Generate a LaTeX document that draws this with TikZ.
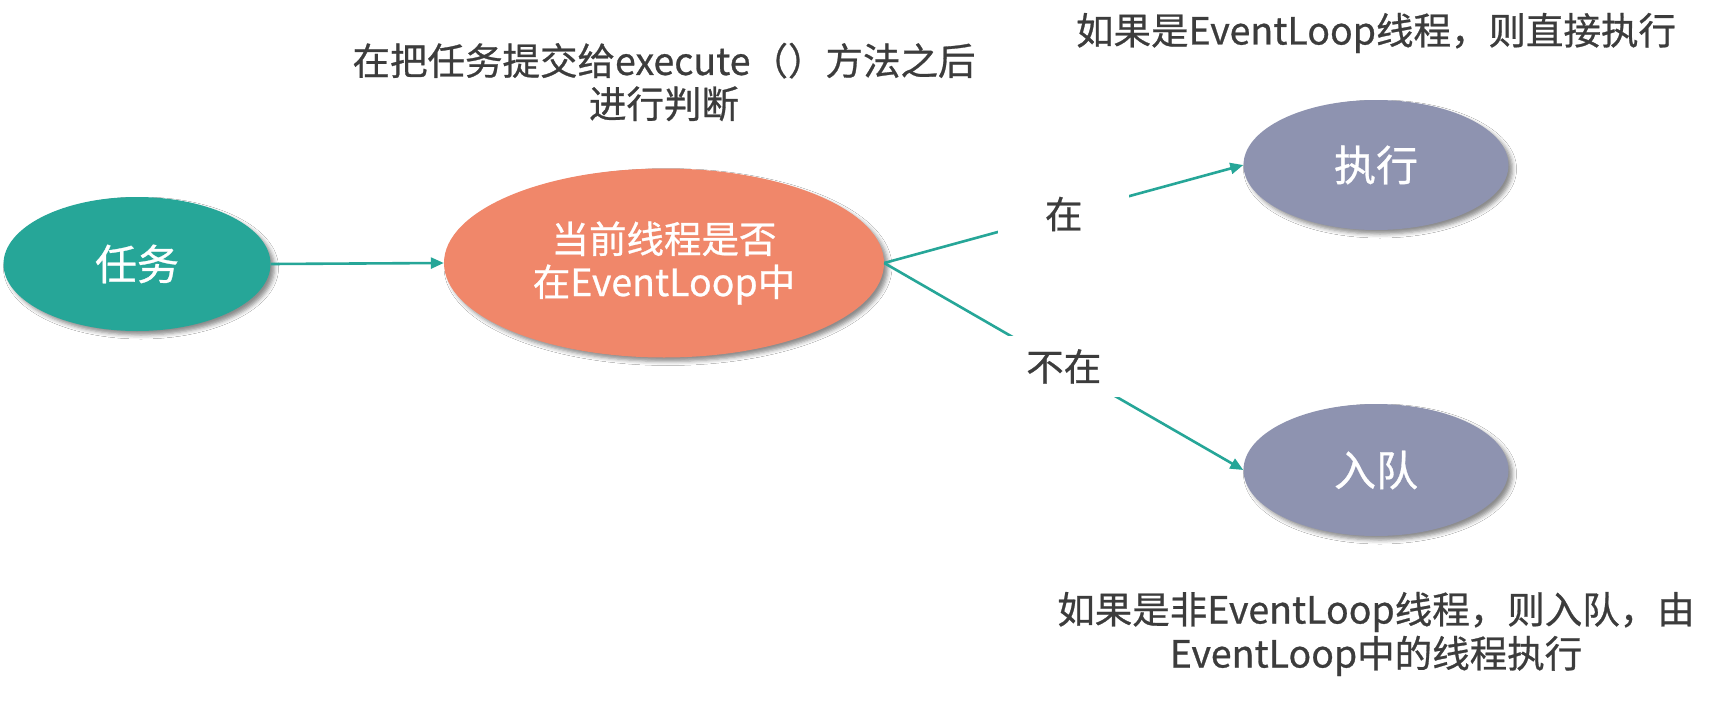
\documentclass[tikz,border=0pt]{standalone}
\usepackage{fontspec}
\setmainfont{Noto Sans CJK SC}[FakeBold=0.7]
\usetikzlibrary{shapes.geometric,shadows.blur,arrows.meta}
\definecolor{teal1}{RGB}{38,166,152}
\definecolor{salmon1}{RGB}{240,135,106}
\definecolor{slate1}{RGB}{142,147,176}
\definecolor{txt}{RGB}{60,60,60}
\begin{document}
\begin{tikzpicture}[x=1pt,y=-1pt,
  blob/.style={ellipse, inner sep=0pt, text=white, align=center,
    blur shadow={shadow xshift=4pt, shadow yshift=-4pt, shadow blur radius=4pt, shadow opacity=45}},
  bigtxt/.style={font=\fontsize{42}{48}\selectfont},
  midtxt/.style={font=\fontsize{37.5}{43}\selectfont},
  note/.style={text=txt, align=center, font=\fontsize{37.5}{43}\selectfont},
  conn/.style={draw=teal1, line width=2.6pt, -{Triangle[length=13pt,width=11pt]}},
  lbl/.style={fill=white, text=txt, minimum width=131pt, minimum height=61pt, inner sep=0pt, font=\fontsize{37.5}{43}\selectfont}
]
\fill[white] (0,0) rectangle (1732,704);
\useasboundingbox (0,0) rectangle (1732,704);

\node[blob, fill=teal1, minimum width=267pt, minimum height=134pt, bigtxt] (task) at (137,264) {任务};
\node[blob, fill=salmon1, minimum width=440pt, minimum height=189pt, midtxt] (judge) at (664,263) {当前线程是否\\在EventLoop中};
\node[blob, fill=slate1, minimum width=265pt, minimum height=130pt, bigtxt] (exec) at (1376,165) {执行};
\node[blob, fill=slate1, minimum width=265pt, minimum height=132pt, bigtxt] (queue) at (1376,470) {入队};

\draw[conn] (task.east) -- (judge.west);
\draw[conn] (judge.east) -- node[lbl] (l1) {在} (exec.west);
\draw[conn] (judge.east) -- node[lbl] (l2) {不在} (queue.west);

\node[note] (n1) at (664,82) {在把任务提交给execute（）方法之后\\进行判断};
\node[note] (n2) at (1376,33) {如果是EventLoop线程，则直接执行};
\node[note, font=\fontsize{37.5}{44}\selectfont] (n3) at (1376,634) {如果是非EventLoop线程，则入队，由\\EventLoop中的线程执行};
\end{tikzpicture}
\end{document}
